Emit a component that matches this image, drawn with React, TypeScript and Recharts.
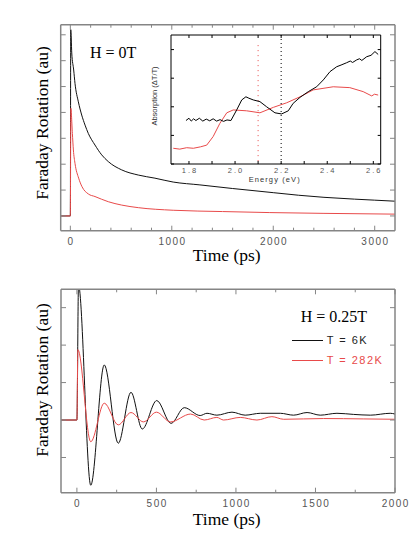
import { LineChart, Line, XAxis, YAxis, ReferenceLine } from "recharts";

// H = 0T : Faraday rotation decay after the pump pulse
const decayTime6K = [-95, 0, 4, 14, 33, 46, 79, 112, 145, 177, 243, 309, 374, 506, 670, 834, 1014, 1277, 1600, 2000, 2250, 2500, 2800, 3000, 3200];
const decay6K = [0, 0, 7.2, 6.3, 5.64, 5.12, 4.41, 3.9, 3.51, 3.19, 2.74, 2.36, 2.1, 1.78, 1.58, 1.46, 1.31, 1.2, 1.06, 0.9, 0.8, 0.72, 0.65, 0.61, 0.57];
const decayTime282K = [-95, 0, 5, 20, 30, 46, 82, 115, 177, 243, 374, 506, 670, 1014, 1500, 1966, 2500, 3200];
const decay282K = [0, 0, 4.16, 3.19, 2.55, 2.03, 1.46, 1.13, 0.85, 0.75, 0.55, 0.42, 0.32, 0.22, 0.17, 0.13, 0.1, 0.07];

// inset: absorption spectra
const energy6K = [1.787, 1.8, 1.81, 1.82, 1.83, 1.845, 1.86, 1.875, 1.89, 1.905, 1.92, 1.935, 1.95, 1.965, 1.982, 2.007, 2.029, 2.047, 2.06, 2.079, 2.108, 2.137, 2.173, 2.202, 2.231, 2.252, 2.282, 2.318, 2.354, 2.383, 2.412, 2.441, 2.46, 2.484, 2.5, 2.51, 2.528, 2.54, 2.55, 2.571, 2.59, 2.607, 2.621];
const absorb6K = [1.52, 1.6, 1.5, 1.58, 1.52, 1.6, 1.5, 1.57, 1.51, 1.58, 1.5, 1.55, 1.49, 1.54, 1.52, 1.89, 2.24, 2.35, 2.3, 2.24, 2.18, 2.0, 1.79, 1.75, 1.86, 2.12, 2.33, 2.53, 2.7, 2.94, 3.23, 3.4, 3.46, 3.54, 3.6, 3.55, 3.64, 3.68, 3.62, 3.75, 3.8, 3.93, 3.83];
const energy282K = [1.732, 1.76, 1.79, 1.819, 1.85, 1.877, 1.905, 1.934, 1.964, 1.992, 2.05, 2.108, 2.166, 2.224, 2.282, 2.339, 2.426, 2.498, 2.556, 2.593, 2.605, 2.621];
const absorb282K = [0.55, 0.52, 0.57, 0.55, 0.6, 0.66, 0.96, 1.42, 1.79, 1.89, 1.86, 1.79, 1.98, 2.14, 2.35, 2.59, 2.7, 2.67, 2.53, 2.38, 2.44, 2.41];
const markerEnergy282K = 2.1;
const markerEnergy6K = 2.2;

// H = 0.25T : spin precession
const precTime6K = [-100, 0, 10, 87, 172, 260, 340, 411, 502, 592, 675, 775, 818, 880, 975, 1058, 1153, 1279, 1362, 1447, 1530, 1635, 1740, 1845, 1970, 2000];
const prec6K = [0, 0, 3.6, -1.74, 1.47, -0.62, 0.74, -0.24, 0.52, -0.09, 0.33, 0.12, 0.18, 0.13, 0.21, 0.13, 0.18, 0.18, 0.13, 0.2, 0.13, 0.18, 0.15, 0.13, 0.18, 0.16];
const precTime282K = [-100, 0, 6, 87, 172, 260, 340, 418, 500, 588, 715, 800, 880, 922, 1027, 1132, 1226, 1300, 1551, 1800, 2000];
const prec282K = [0, 0, 1.88, -0.58, 0.45, -0.13, 0.2, -0.05, 0.21, -0.05, 0.16, 0.0, 0.07, 0.0, 0.07, 0.0, 0.09, 0.02, 0.04, 0.03, 0.02];

// tick positions
const topTimeTicks = [0, 200, 400, 600, 800, 1000, 1200, 1400, 1600, 1800, 2000, 2200, 2400, 2600, 2800, 3000];
const topTimeLabels = [0, 1000, 2000, 3000];
const topYTicks = [0, 1, 2, 3, 4, 5, 6, 7];
const bottomTimeTicks = [0, 250, 500, 750, 1000, 1250, 1500, 1750, 2000];
const bottomTimeLabels = [0, 500, 1000, 1500, 2000];
const bottomYTicks = [-1, 0, 1, 2, 3];
const energyTicks = [1.8, 1.9, 2.0, 2.1, 2.2, 2.3, 2.4, 2.5, 2.6];
const energyLabels = ["1.8", "2.0", "2.2", "2.4", "2.6"];
const insetYTicks = [0, 1, 2, 3, 4];

const RED = "#e84a4a";
const FRAME = "#858585";
const SERIF = "'Liberation Serif', 'DejaVu Serif', serif";
const SANS = "'Liberation Sans', Arial, sans-serif";

// every axis reserves this much room; chart margins are reduced to match
const AX = 10;

const pts = (xs: number[], ys: number[]) => xs.map((x, i) => ({ x, y: ys[i] }));

type Side = "bottom" | "top" | "left" | "right";

// inward-pointing tick marks, optionally with a label below the bottom edge
function edgeTick(
  side: Side,
  color: string,
  isMajor: (v: number) => boolean,
  label?: (v: number) => string | null,
  opts: { major?: number; minor?: number; size?: number; dy?: number; spacing?: number } = {}
) {
  const { major = 5, minor = 3, size = 10, dy = 14.6, spacing = 1.5 } = opts;
  return (p: any) => {
    const v = p.payload.value;
    const len = isMajor(v) ? major : minor;
    const { x, y } = p;
    let l;
    if (side === "bottom") l = <line x1={x} y1={y} x2={x} y2={y - len} />;
    else if (side === "top") l = <line x1={x} y1={y} x2={x} y2={y + len} />;
    else if (side === "left") l = <line x1={x} y1={y} x2={x + len} y2={y} />;
    else l = <line x1={x} y1={y} x2={x - len} y2={y} />;
    const text = label ? label(v) : null;
    return (
      <g stroke={color} strokeWidth={1}>
        {l}
        {text !== null && (
          <text
            x={x + spacing / 2}
            y={y + dy}
            textAnchor="middle"
            stroke="none"
            fill="#555"
            fontFamily={SANS}
            fontSize={size}
            letterSpacing={spacing}
          >
            {text}
          </text>
        )}
      </g>
    );
  };
}

const axisCommon = {
  type: "number" as const,
  allowDataOverflow: true,
  interval: 0 as const,
  tickSize: 0,
  tickMargin: 0,
  tickLine: false,
};

function FrameAxes({ xDomain, yDomain, xTicks, yTicks, xMajor, xLabel, color, width, tickOpts }: any) {
  const line = { stroke: color, strokeWidth: width };
  return [
    <XAxis key="xb" xAxisId="b" dataKey="x" orientation="bottom" height={AX} domain={xDomain} ticks={xTicks} axisLine={line} tick={edgeTick("bottom", color, xMajor, xLabel, tickOpts)} {...axisCommon} />,
    <XAxis key="xt" xAxisId="t" dataKey="x" orientation="top" height={AX} domain={xDomain} ticks={xTicks} axisLine={line} tick={edgeTick("top", color, xMajor, undefined, tickOpts)} {...axisCommon} />,
    <YAxis key="yl" yAxisId="l" orientation="left" width={AX} domain={yDomain} ticks={yTicks} axisLine={line} tick={edgeTick("left", color, () => true, undefined, tickOpts)} {...axisCommon} />,
    <YAxis key="yr" yAxisId="r" orientation="right" width={AX} domain={yDomain} ticks={yTicks} axisLine={line} tick={edgeTick("right", color, () => true, undefined, tickOpts)} {...axisCommon} />,
  ];
}

// plot-area edges -> chart margins (axes take AX on each side)
const frame = (w: number, h: number, left: number, top: number, right: number, bottom: number) => ({
  width: w,
  height: h,
  margin: { left: left - AX, top: top - AX, right: w - right - AX, bottom: h - bottom - AX },
});

const abs = (style: React.CSSProperties): React.CSSProperties => ({ position: "absolute", lineHeight: 1, whiteSpace: "nowrap", ...style });

export default function App() {
  return (
    <div style={{ position: "absolute", left: 0, top: 0, width: 420, height: 539, background: "#fff", overflow: "hidden" }}>
      {/* H = 0T decay */}
      <div style={{ position: "absolute", left: 0, top: 0 }}>
        <LineChart {...frame(420, 270, 60.7, 24.7, 395, 230.7)}>
          {FrameAxes({
            xDomain: [-95, 3200],
            yDomain: [-0.57, 7.39],
            xTicks: topTimeTicks,
            yTicks: topYTicks,
            xMajor: (v: number) => topTimeLabels.includes(v),
            xLabel: (v: number) => (topTimeLabels.includes(v) ? String(v) : null),
            color: FRAME,
            width: 1.5,
          })}
          <Line xAxisId="b" yAxisId="l" data={pts(decayTime6K, decay6K)} dataKey="y" type="monotone" stroke="#111" strokeWidth={1} dot={false} isAnimationActive={false} />
          <Line xAxisId="b" yAxisId="l" data={pts(decayTime282K, decay282K)} dataKey="y" type="monotone" stroke={RED} strokeWidth={1} dot={false} isAnimationActive={false} />
        </LineChart>
      </div>

      {/* absorption inset */}
      <div style={{ position: "absolute", left: 171, top: 35, width: 209.7, height: 129, background: "#fff" }} />
      <div style={{ position: "absolute", left: 0, top: 0 }}>
        <LineChart {...frame(420, 200, 171, 35, 380.7, 164)}>
          {FrameAxes({
            xDomain: [1.722, 2.632],
            yDomain: [0, 4.51],
            xTicks: energyTicks,
            yTicks: insetYTicks,
            xMajor: () => true,
            xLabel: (v: number) => {
              const s = v.toFixed(1);
              return energyLabels.includes(s) ? s : null;
            },
            color: "#000",
            width: 1,
            tickOpts: { major: 3, minor: 3, size: 7.5, dy: 8.7, spacing: 2 },
          })}
          <ReferenceLine xAxisId="b" yAxisId="l" segment={[{ x: markerEnergy282K, y: 0.1 }, { x: markerEnergy282K, y: 4.2 }]} stroke={RED} strokeWidth={1} strokeDasharray="1 4" />
          <ReferenceLine xAxisId="b" yAxisId="l" x={markerEnergy6K} stroke="#000" strokeWidth={1} strokeDasharray="1 3" />
          <Line xAxisId="b" yAxisId="l" data={pts(energy282K, absorb282K)} dataKey="y" type="linear" stroke={RED} strokeWidth={1} dot={false} isAnimationActive={false} />
          <Line xAxisId="b" yAxisId="l" data={pts(energy6K, absorb6K)} dataKey="y" type="linear" stroke="#000" strokeWidth={1} dot={false} isAnimationActive={false} />
        </LineChart>
      </div>

      {/* H = 0.25T precession */}
      <div style={{ position: "absolute", left: 0, top: 270 }}>
        <LineChart {...frame(420, 269, 61, 19.3, 395, 222.7)}>
          {FrameAxes({
            xDomain: [-100, 2000],
            yDomain: [-1.94, 3.49],
            xTicks: bottomTimeTicks,
            yTicks: bottomYTicks,
            xMajor: (v: number) => bottomTimeLabels.includes(v),
            xLabel: (v: number) => (bottomTimeLabels.includes(v) ? String(v) : null),
            color: FRAME,
            width: 1.5,
          })}
          <Line xAxisId="b" yAxisId="l" data={pts(precTime6K, prec6K)} dataKey="y" type="monotone" stroke="#111" strokeWidth={1} dot={false} isAnimationActive={false} />
          <Line xAxisId="b" yAxisId="l" data={pts(precTime282K, prec282K)} dataKey="y" type="monotone" stroke={RED} strokeWidth={1} dot={false} isAnimationActive={false} />
        </LineChart>
      </div>

      {/* titles and annotations */}
      <div style={abs({ left: 226.7, top: 256, transform: "translate(-50%, -50%)", fontFamily: SERIF, fontSize: 17.5 })}>Time (ps)</div>
      <div style={abs({ left: 226.7, top: 520, transform: "translate(-50%, -50%)", fontFamily: SERIF, fontSize: 17.5 })}>Time (ps)</div>
      <div style={abs({ left: 42.5, top: 122.5, transform: "translate(-50%, -50%) rotate(-90deg)", fontFamily: SERIF, fontSize: 17.5 })}>Faraday Rotation (au)</div>
      <div style={abs({ left: 42.5, top: 380, transform: "translate(-50%, -50%) rotate(-90deg)", fontFamily: SERIF, fontSize: 17.5 })}>Faraday Rotation (au)</div>
      <div style={abs({ left: 90, top: 52.5, transform: "translateY(-50%)", fontFamily: SERIF, fontSize: 16 })}>H = 0T</div>
      <div style={abs({ left: 300.7, top: 316.5, transform: "translateY(-50%)", fontFamily: SERIF, fontSize: 16 })}>H = 0.25T</div>

      <div style={abs({ left: 274.7, top: 180, transform: "translate(-50%, -50%)", fontFamily: SANS, fontSize: 7.5, letterSpacing: 1.1, color: "#333" })}>Energy (eV)</div>
      <div style={abs({ left: 155, top: 96, transform: "translate(-50%, -50%) rotate(-90deg)", fontFamily: SANS, fontSize: 7.5, color: "#333" })}>Absorption (ΔT/T)</div>

      {/* legend */}
      <div style={{ position: "absolute", left: 291.7, top: 340.2, width: 31.6, height: 1, background: "#111" }} />
      <div style={abs({ left: 326.7, top: 340.3, transform: "translateY(-50%)", fontFamily: SANS, fontSize: 11, letterSpacing: 1.5, color: "#222" })}>T = 6K</div>
      <div style={{ position: "absolute", left: 291.7, top: 359.5, width: 31.6, height: 1.3, background: RED }} />
      <div style={abs({ left: 326.7, top: 359.8, transform: "translateY(-50%)", fontFamily: SANS, fontSize: 11, letterSpacing: 1.5, color: RED })}>T = 282K</div>
    </div>
  );
}
